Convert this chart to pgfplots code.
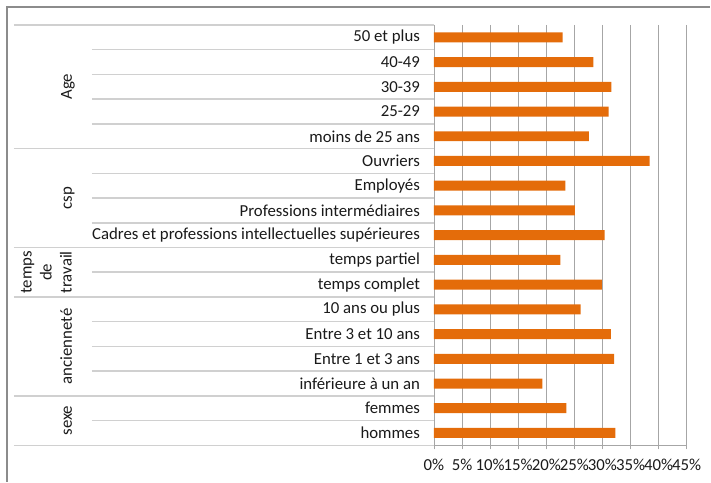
\documentclass[border=0pt]{standalone}
\usepackage{fontspec}
\setmainfont{Carlito}
\usepackage{pgfplots}
\pgfplotsset{compat=1.18}

\definecolor{barorange}{HTML}{E46C0A}
\definecolor{gridgray}{HTML}{A6A6A6}
\definecolor{sepgray}{HTML}{D0D0D0}
\definecolor{framegray}{HTML}{8C8C8C}
\definecolor{txt}{HTML}{1A1A1A}
\newcommand{\lbl}{\fontsize{16.8bp}{20bp}\selectfont}

\begin{document}
\begin{tikzpicture}
\begin{axis}[
  scale only axis,
  width=253bp, height=420.7bp,
  xbar, bar width=10bp,
  xmin=0, xmax=45,
  ymin=-0.5, ymax=16.5, y dir=reverse,
  enlargelimits=false, clip=false,
  axis x line*=bottom, axis y line*=left,
  axis line style={-, gridgray, line width=0.8bp},
  xtick={0,5,...,45},
  xmajorgrids,
  grid style={gridgray, line width=0.8bp},
  tick align=outside, major tick length=4bp,
  xtick style={gridgray, line width=0.8bp},
  ytick={0,...,16},
  ytick style={draw=none},
  yticklabels={50 et plus, 40-49, 30-39, 25-29, moins de 25 ans,
    Ouvriers, Employés, Professions intermédiaires,
    Cadres et professions intellectuelles supérieures,
    temps partiel, temps complet,
    10 ans ou plus, Entre 3 et 10 ans, Entre 1 et 3 ans, inférieure à un an,
    femmes, hommes},
  /pgf/number format/assume math mode=true,
  xticklabel={\pgfmathprintnumber{\tick}\%},
  tick label style={font=\lbl, text=txt},
  xticklabel style={yshift=-6bp},
  yticklabel style={xshift=-6.5bp},
]
\addplot[fill=barorange, draw=none] coordinates {
  (22.9,0) (28.4,1) (31.6,2) (31.1,3) (27.6,4)
  (38.4,5) (23.4,6) (25.1,7) (30.4,8)
  (22.5,9) (29.9,10)
  (26.1,11) (31.5,12) (32.1,13) (19.3,14)
  (23.6,15) (32.3,16)
};

% separators between categories inside a group
\pgfplotsinvokeforeach{0.5,1.5,2.5,3.5,5.5,6.5,7.5,9.5,11.5,12.5,13.5,15.5}{
  \draw[sepgray, line width=1.5bp] ([xshift=-342.3bp]axis cs:0,#1) -- (axis cs:0,#1);
}
% separators between groups
\pgfplotsinvokeforeach{-0.5,4.5,8.5,10.5,14.5,16.5}{
  \draw[sepgray, line width=1.5bp] ([xshift=-420.3bp]axis cs:0,#1) -- (axis cs:0,#1);
}

% group labels
\node[rotate=90, anchor=base, font=\lbl, text=txt] at ([xshift=-362.3bp]axis cs:0,2) {Age};
\node[rotate=90, anchor=base, font=\lbl, text=txt] at ([xshift=-362.3bp]axis cs:0,6.5) {csp};
\node[rotate=90, anchor=south, inner sep=0pt, align=center, font=\lbl, text=txt]
  at ([xshift=-362.3bp]axis cs:0,9.5) {temps\\de\\travail};
\node[rotate=90, anchor=base, font=\lbl, text=txt] at ([xshift=-362.3bp]axis cs:0,12.5) {ancienneté};
\node[rotate=90, anchor=base, font=\lbl, text=txt] at ([xshift=-362.3bp]axis cs:0,15.5) {sexe};
\end{axis}

% outer frame (left and top edges)
\draw[framegray, line width=1.2bp] (-427.3bp,-36.3bp) -- (-427.3bp,438.7bp) -- (276.7bp,438.7bp);
\useasboundingbox (-434.3bp,-36.3bp) rectangle (276.7bp,445.7bp);
\end{tikzpicture}
\end{document}
